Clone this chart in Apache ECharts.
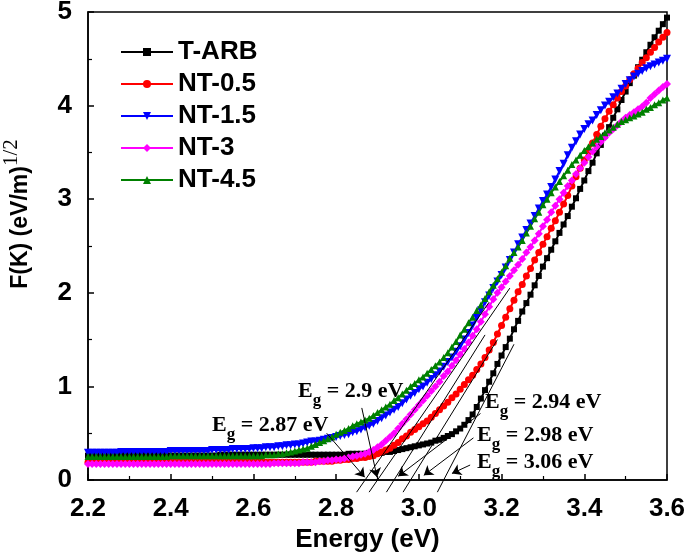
<!DOCTYPE html>
<html><head><meta charset="utf-8">
<script src="https://cdn.jsdelivr.net/npm/echarts@6/dist/echarts.min.js"></script>
<style>html,body{margin:0;padding:0;background:#fff}#c{width:685px;height:552px}</style>
</head><body><div id="c"></div>
<script>
// ---------- data ----------
const energy = [
2.20,2.21,2.22,2.23,2.24,2.25,2.26,2.27,2.28,2.29,
2.30,2.31,2.32,2.33,2.34,2.35,2.36,2.37,2.38,2.39,
2.40,2.41,2.42,2.43,2.44,2.45,2.46,2.47,2.48,2.49,
2.50,2.51,2.52,2.53,2.54,2.55,2.56,2.57,2.58,2.59,
2.60,2.61,2.62,2.63,2.64,2.65,2.66,2.67,2.68,2.69,
2.70,2.71,2.72,2.73,2.74,2.75,2.76,2.77,2.78,2.79,
2.80,2.81,2.82,2.83,2.84,2.85,2.86,2.87,2.88,2.89,
2.90,2.91,2.92,2.93,2.94,2.95,2.96,2.97,2.98,2.99,
3.00,3.01,3.02,3.03,3.04,3.05,3.06,3.07,3.08,3.09,
3.10,3.11,3.12,3.13,3.14,3.15,3.16,3.17,3.18,3.19,
3.20,3.21,3.22,3.23,3.24,3.25,3.26,3.27,3.28,3.29,
3.30,3.31,3.32,3.33,3.34,3.35,3.36,3.37,3.38,3.39,
3.40,3.41,3.42,3.43,3.44,3.45,3.46,3.47,3.48,3.49,
3.50,3.51,3.52,3.53,3.54,3.55,3.56,3.57,3.58,3.59,
3.60];

const tArb = [
0.26,0.26,0.26,0.26,0.26,0.26,0.26,0.26,0.26,0.26,
0.26,0.26,0.26,0.26,0.26,0.26,0.26,0.26,0.26,0.26,
0.26,0.26,0.26,0.26,0.26,0.26,0.26,0.26,0.26,0.26,
0.26,0.26,0.27,0.27,0.27,0.27,0.27,0.27,0.27,0.27,
0.27,0.27,0.27,0.27,0.27,0.27,0.27,0.27,0.27,0.27,
0.27,0.27,0.27,0.27,0.27,0.27,0.27,0.27,0.27,0.27,
0.27,0.27,0.27,0.28,0.28,0.28,0.28,0.28,0.29,0.29,
0.29,0.29,0.30,0.30,0.31,0.32,0.33,0.34,0.35,0.36,
0.37,0.38,0.39,0.40,0.42,0.43,0.45,0.47,0.49,0.52,
0.55,0.59,0.64,0.70,0.78,0.87,0.96,1.05,1.14,1.24,
1.33,1.42,1.51,1.61,1.70,1.80,1.89,1.98,2.08,2.18,
2.28,2.37,2.46,2.55,2.64,2.73,2.82,2.92,3.01,3.11,
3.20,3.30,3.39,3.49,3.58,3.68,3.77,3.87,3.96,4.06,
4.15,4.24,4.32,4.41,4.49,4.57,4.65,4.73,4.80,4.87,
4.94];

const nt05 = [
0.19,0.19,0.19,0.19,0.19,0.19,0.19,0.19,0.19,0.19,
0.19,0.19,0.19,0.19,0.19,0.19,0.19,0.19,0.19,0.19,
0.19,0.19,0.19,0.19,0.19,0.19,0.19,0.19,0.19,0.19,
0.19,0.19,0.19,0.19,0.19,0.19,0.19,0.19,0.19,0.19,
0.19,0.19,0.19,0.19,0.19,0.19,0.19,0.19,0.19,0.19,
0.19,0.19,0.19,0.19,0.19,0.20,0.20,0.20,0.20,0.20,
0.21,0.21,0.22,0.22,0.23,0.23,0.24,0.24,0.25,0.26,
0.28,0.30,0.32,0.34,0.37,0.40,0.44,0.47,0.51,0.54,
0.57,0.60,0.63,0.67,0.71,0.75,0.79,0.83,0.88,0.92,
0.97,1.02,1.07,1.12,1.18,1.24,1.31,1.39,1.47,1.56,
1.65,1.74,1.83,1.92,2.01,2.09,2.18,2.26,2.35,2.43,
2.52,2.60,2.69,2.77,2.86,2.95,3.04,3.14,3.24,3.33,
3.42,3.51,3.60,3.69,3.78,3.86,3.94,4.01,4.08,4.15,
4.21,4.28,4.34,4.40,4.46,4.51,4.57,4.62,4.68,4.73,
4.78];

const nt15 = [
0.29,0.29,0.29,0.29,0.29,0.29,0.29,0.29,0.30,0.30,
0.30,0.30,0.30,0.30,0.30,0.30,0.30,0.30,0.30,0.30,
0.31,0.31,0.31,0.31,0.31,0.31,0.31,0.31,0.31,0.31,
0.32,0.32,0.32,0.32,0.32,0.33,0.33,0.33,0.33,0.33,
0.34,0.34,0.34,0.35,0.35,0.35,0.36,0.36,0.37,0.37,
0.38,0.38,0.39,0.40,0.41,0.41,0.42,0.43,0.44,0.45,
0.46,0.47,0.48,0.49,0.51,0.52,0.54,0.56,0.58,0.60,
0.63,0.66,0.69,0.72,0.75,0.78,0.82,0.86,0.90,0.93,
0.97,1.00,1.04,1.08,1.12,1.16,1.21,1.26,1.31,1.37,
1.43,1.50,1.57,1.65,1.73,1.81,1.90,1.97,2.05,2.12,
2.19,2.27,2.35,2.43,2.52,2.59,2.67,2.74,2.82,2.90,
2.98,3.05,3.13,3.21,3.30,3.38,3.47,3.55,3.62,3.69,
3.75,3.80,3.84,3.90,3.95,4.00,4.04,4.09,4.13,4.18,
4.23,4.27,4.31,4.34,4.37,4.40,4.42,4.44,4.46,4.48,
4.50];

const nt3 = [
0.17,0.17,0.17,0.17,0.17,0.17,0.17,0.17,0.17,0.17,
0.17,0.17,0.17,0.17,0.17,0.17,0.17,0.17,0.17,0.17,
0.17,0.17,0.17,0.17,0.17,0.17,0.17,0.17,0.17,0.17,
0.17,0.17,0.17,0.17,0.17,0.17,0.17,0.17,0.17,0.17,
0.17,0.17,0.17,0.17,0.17,0.18,0.18,0.18,0.18,0.18,
0.18,0.18,0.19,0.19,0.19,0.19,0.20,0.20,0.21,0.21,
0.22,0.22,0.23,0.24,0.25,0.26,0.27,0.28,0.30,0.32,
0.35,0.38,0.42,0.46,0.50,0.55,0.60,0.65,0.70,0.75,
0.80,0.85,0.90,0.95,1.00,1.05,1.11,1.16,1.22,1.28,
1.34,1.40,1.47,1.54,1.61,1.69,1.77,1.85,1.93,2.00,
2.06,2.12,2.18,2.24,2.30,2.36,2.43,2.49,2.56,2.63,
2.71,2.78,2.86,2.93,3.00,3.07,3.14,3.20,3.27,3.33,
3.39,3.45,3.51,3.56,3.61,3.66,3.71,3.75,3.79,3.83,
3.87,3.90,3.93,3.96,3.99,4.03,4.08,4.12,4.16,4.20,
4.23];

const nt45 = [
0.25,0.25,0.25,0.25,0.25,0.25,0.25,0.25,0.25,0.25,
0.25,0.25,0.25,0.25,0.25,0.25,0.25,0.25,0.25,0.25,
0.26,0.26,0.26,0.26,0.26,0.26,0.26,0.26,0.26,0.26,
0.26,0.26,0.26,0.26,0.26,0.26,0.26,0.26,0.26,0.26,
0.26,0.26,0.26,0.27,0.27,0.27,0.28,0.28,0.29,0.30,
0.31,0.32,0.33,0.34,0.36,0.38,0.40,0.42,0.44,0.46,
0.49,0.51,0.53,0.55,0.58,0.60,0.62,0.64,0.66,0.69,
0.72,0.75,0.78,0.81,0.85,0.88,0.92,0.96,1.00,1.03,
1.07,1.10,1.14,1.18,1.22,1.26,1.31,1.36,1.42,1.48,
1.55,1.61,1.68,1.74,1.81,1.87,1.94,2.01,2.08,2.15,
2.22,2.29,2.37,2.43,2.49,2.56,2.64,2.71,2.79,2.86,
2.94,3.00,3.07,3.13,3.19,3.25,3.31,3.37,3.42,3.47,
3.52,3.56,3.60,3.64,3.67,3.71,3.74,3.77,3.80,3.83,
3.85,3.87,3.89,3.91,3.93,3.96,3.98,4.01,4.03,4.06,
4.08];

const seriesNames = ['T-ARB', 'NT-0.5', 'NT-1.5', 'NT-3', 'NT-4.5'];
const xTickLabels = ['2.2','2.4','2.6','2.8','3.0','3.2','3.4','3.6'];
const yTickLabels = ['0','1','2','3','4','5'];

// band gap (tangent intercept) values and upper end of each tangent line
const bandGaps      = [2.87, 2.90, 2.94, 2.98, 3.06];
const bandGapText   = ['2.87', '2.9', '2.94', '2.98', '3.06'];
const tangentTops   = [[3.17, 1.90], [3.22, 2.05], [3.16, 1.55], [3.19, 1.50], [3.23, 1.45]];
// annotation arrows (start -> tip), in data units
const arrowStarts = [[2.777, 0.50], [2.862, 0.77], [3.149, 0.71], [3.132, 0.45], [3.124, 0.16]];
const arrowTips   = [[2.869, 0.03], [2.899, 0.03], [2.950, 0.04], [3.012, 0.05], [3.080, 0.07]];

// ---------- layout / style ----------
const labelLayout = [[212, 433], [298, 399], [485, 410], [477, 443], [477, 470]]; // left x, baseline y (px)
const styles = [
  {color: '#000000', symbol: 'rect', size: 6, rotate: 0},
  {color: '#ff0000', symbol: 'circle', size: 7, rotate: 0},
  {color: '#0000ff', symbol: 'triangle', size: 8, rotate: 180},
  {color: '#ff00ff', symbol: 'diamond', size: 8, rotate: 0},
  {color: '#008000', symbol: 'triangle', size: 7, rotate: 0}
];
const values = [tArb, nt05, nt15, nt3, nt45];

const series = values.map((vals, k) => ({
  name: seriesNames[k],
  type: 'line',
  data: energy.map((e, i) => [e, vals[i]]),
  symbol: styles[k].symbol,
  symbolSize: styles[k].size,
  symbolRotate: styles[k].rotate,
  showAllSymbol: true,
  lineStyle: {color: styles[k].color, width: 2},
  itemStyle: {color: styles[k].color},
  emphasis: {disabled: true},
  z: 2
}));

const yBottom = -0.13;
bandGaps.forEach((eg, i) => {
  const top = tangentTops[i];
  const slope = top[1] / (top[0] - eg);
  series.push({
    name: 'tangent' + i,
    type: 'line',
    data: [[eg + yBottom / slope, yBottom], top],
    symbol: 'none',
    clip: false,
    silent: true,
    lineStyle: {color: '#000', width: 1},
    emphasis: {disabled: true},
    z: 4
  });
});

series.push({
  name: 'arrows',
  type: 'line',
  data: [],
  silent: true,
  z: 5,
  markLine: {
    silent: true,
    animation: false,
    symbol: ['none', 'arrow'],
    symbolSize: 9,
    label: {show: false},
    lineStyle: {color: '#000', width: 1, type: 'solid'},
    emphasis: {disabled: true},
    data: arrowStarts.map((s, i) => [{coord: s}, {coord: arrowTips[i]}])
  }
});

const serifBig = 'bold 22px "Liberation Serif"';
const serifSmall = 'bold 17px "Liberation Serif"';
const graphics = [];
labelLayout.forEach((p, i) => {
  const x = p[0], base = p[1];
  graphics.push({type: 'text', x: x, y: base - 7.4, silent: true,
    style: {text: 'E', font: serifBig, fill: '#000', textAlign: 'left', textVerticalAlign: 'middle'}});
  graphics.push({type: 'text', x: x + 14.7, y: base + 2, silent: true,
    style: {text: 'g', font: serifSmall, fill: '#000', textAlign: 'left', textVerticalAlign: 'middle'}});
  graphics.push({type: 'text', x: x + 23.2, y: base - 7.4, silent: true,
    style: {text: ' = ' + bandGapText[i] + ' eV', font: serifBig, fill: '#000', textAlign: 'left', textVerticalAlign: 'middle'}});
});

const labelFont = {fontFamily: '"Liberation Sans", Arial', fontWeight: 'bold', fontSize: 26, color: '#000'};

const option = {
  animation: false,
  backgroundColor: '#fff',
  grid: {left: 88, right: 18, top: 12, bottom: 72, show: true, borderColor: '#000', borderWidth: 1.5,
    backgroundColor: 'transparent', containLabel: false, outerBoundsMode: 'none'},
  legend: {
    data: seriesNames,
    orient: 'vertical',
    left: 115, top: 34,
    itemWidth: 52, itemHeight: 10, itemGap: 6,
    textStyle: {fontFamily: '"Liberation Sans", Arial', fontWeight: 'bold', fontSize: 26, color: '#000'},
    selectedMode: false
  },
  xAxis: {
    type: 'value', min: 2.2, max: 3.6, interval: 0.2,
    name: 'Energy (eV)', nameLocation: 'middle', nameGap: 40,
    nameTextStyle: Object.assign({}, labelFont, {fontSize: 26, padding: [0, 20, 0, 0]}),
    axisLine: {lineStyle: {color: '#000', width: 1.5}},
    axisTick: {inside: true, length: 6, lineStyle: {color: '#000', width: 1.5}},
    minorTick: {show: true, splitNumber: 2, length: 4, lineStyle: {color: '#000', width: 1.2}},
    splitLine: {show: false},
    axisLabel: Object.assign({}, labelFont, {margin: 16,
      formatter: v => { const s = v.toFixed(1); return xTickLabels.indexOf(s) >= 0 ? s : ''; }})
  },
  yAxis: {
    type: 'value', min: 0, max: 5, interval: 1,
    name: '{a|F(K) (eV/m)}{b|1/2}', nameLocation: 'middle', nameRotate: 90, nameGap: 47,
    nameTextStyle: {
      padding: [0, 0, 0, 64],
      rich: {
        a: {fontFamily: '"Liberation Sans", Arial', fontWeight: 'bold', fontSize: 23, color: '#000'},
        b: {fontFamily: '"Liberation Serif"', fontSize: 21, color: '#000', padding: [0, 0, 19, 0]}
      }
    },
    axisLine: {show: true, lineStyle: {color: '#000', width: 1.5}},
    axisTick: {show: true, inside: true, length: 6, lineStyle: {color: '#000', width: 1.5}},
    minorTick: {show: true, splitNumber: 2, length: 4, lineStyle: {color: '#000', width: 1.2}},
    splitLine: {show: false},
    axisLabel: Object.assign({}, labelFont, {margin: 16,
      formatter: v => { const s = String(Math.round(v)); return yTickLabels.indexOf(s) >= 0 ? s : ''; }})
  },
  graphic: graphics,
  series: series
};

const chart = echarts.init(document.getElementById('c'), null, {renderer: 'canvas'});
chart.setOption(option);
</script>
</body></html>
